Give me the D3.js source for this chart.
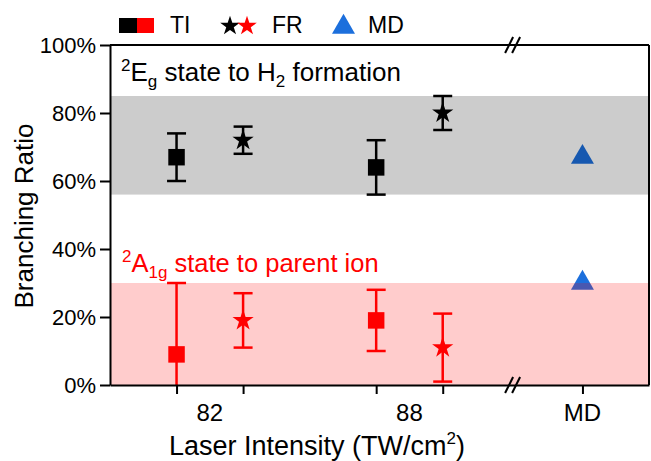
<!DOCTYPE html>
<html>
<head>
<meta charset="utf-8">
<script src="https://cdn.jsdelivr.net/npm/d3@7"></script>
<style>
  body { margin: 0; background: #fff; }
  svg text { font-family: Arial, "Liberation Sans", sans-serif; }
</style>
</head>
<body>
<svg id="chart" width="651" height="461"></svg>
<script>
// values (percent)
const intensities = ["82", "88"]
const tiH2 = [67, 64]
const tiH2Err = [7, 8]
const frH2 = [72, 80]
const frH2Err = [4, 5]
const tiParent = [9, 19]
const tiParentErr = [21, 9]
const frParent = [19, 11]
const frParentErr = [8, 10]
const mdLabel = "MD"
const mdValues = [67, 30]
const h2Band = [56, 85]
const parentBand = [0, 30]
const yTicks = [0, 20, 40, 60, 80, 100]

const blue = '#1c6fdc'
const red = '#ff0000'

const svg = d3.select('#chart')

const x = d3.scaleLinear().domain([0, 8.1]).range([110, 649])
const y = d3.scaleLinear().domain([0, 100]).range([385, 45])
const group = d3.scalePoint().domain(intensities).range([1.5, 4.5])
const mdX = 7.1, breakX = 6.05

svg.append('clipPath').attr('id', 'plot-clip')
  .append('rect')
  .attr('x', x(0)).attr('y', y(100))
  .attr('width', x(8.1) - x(0)).attr('height', y(0) - y(100))

const plot = svg.append('g').attr('clip-path', 'url(#plot-clip)')

// build the marks from the arrays
const points = []
intensities.forEach((g, i) => {
  points.push({x: group(g) - 0.5, v: tiH2[i], e: tiH2Err[i], color: 'black', shape: d3.symbolSquare, size: 272})
  points.push({x: group(g) + 0.5, v: frH2[i], e: frH2Err[i], color: 'black', shape: d3.symbolStar, size: 140})
  points.push({x: group(g) - 0.5, v: tiParent[i], e: tiParentErr[i], color: red, shape: d3.symbolSquare, size: 272})
  points.push({x: group(g) + 0.5, v: frParent[i], e: frParentErr[i], color: red, shape: d3.symbolStar, size: 140})
})

const capW = 9.5
const bars = plot.selectAll('g.err')
  .data(points)
  .enter()
  .append('g')
  .attr('class', 'err')
  .attr('stroke', d => d.color)
  .attr('stroke-width', 2.5)

bars.append('line')
  .attr('x1', d => x(d.x)).attr('x2', d => x(d.x))
  .attr('y1', d => y(d.v - d.e)).attr('y2', d => y(d.v + d.e))
bars.append('line')
  .attr('x1', d => x(d.x) - capW).attr('x2', d => x(d.x) + capW)
  .attr('y1', d => y(d.v + d.e)).attr('y2', d => y(d.v + d.e))
bars.append('line')
  .attr('x1', d => x(d.x) - capW).attr('x2', d => x(d.x) + capW)
  .attr('y1', d => y(d.v - d.e)).attr('y2', d => y(d.v - d.e))

plot.selectAll('path.marker')
  .data(points)
  .enter()
  .append('path')
  .attr('class', 'marker')
  .attr('d', d => d3.symbol(d.shape, d.size)())
  .attr('fill', d => d.color)
  .attr('transform', d => `translate(${x(d.x)},${y(d.v)})`)

plot.selectAll('path.md')
  .data(mdValues)
  .enter()
  .append('path')
  .attr('class', 'md')
  .attr('d', d3.symbol(d3.symbolTriangle, 229)())
  .attr('fill', blue)
  .attr('transform', d => `translate(${x(mdX)},${y(d)})`)

// shaded bands sit on top, semi transparent
plot.append('rect')
  .attr('x', x(0)).attr('width', x(8.1) - x(0))
  .attr('y', y(h2Band[1])).attr('height', y(h2Band[0]) - y(h2Band[1]))
  .attr('fill', 'black').attr('fill-opacity', 0.2)
plot.append('rect')
  .attr('x', x(0)).attr('width', x(8.1) - x(0))
  .attr('y', y(parentBand[1])).attr('height', y(parentBand[0]) - y(parentBand[1]))
  .attr('fill', red).attr('fill-opacity', 0.2)

// axes
const yAxis = svg.append('g')
  .attr('transform', `translate(${x(0)},0)`)
  .call(d3.axisLeft(y).tickValues(yTicks).tickFormat(d => d + '%').tickSize(10).tickSizeOuter(0).tickPadding(4))
yAxis.selectAll('text').attr('font-size', 22).attr('fill', 'black')

const tickPositions = []
intensities.forEach(g => { tickPositions.push(group(g) - 0.5, group(g) + 0.5) })
tickPositions.push(mdX)

const xAxis = svg.append('g')
  .attr('transform', `translate(0,${y(0)})`)
  .call(d3.axisBottom(x).tickValues(tickPositions).tickFormat('').tickSize(9).tickSizeOuter(0))

svg.selectAll('.domain, .tick line').attr('stroke', 'black').attr('stroke-width', 2)

svg.selectAll('text.xlab')
  .data(intensities.concat([mdLabel]))
  .enter()
  .append('text')
  .attr('class', 'xlab')
  .attr('x', d => d === mdLabel ? x(mdX) : x(group(d)))
  .attr('y', 421)
  .attr('text-anchor', 'middle')
  .attr('font-size', 24)
  .text(d => d)

// frame top and right
svg.append('line').attr('x1', x(0)).attr('x2', x(8.1)).attr('y1', y(100)).attr('y2', y(100))
  .attr('stroke', 'black').attr('stroke-width', 2)
svg.append('line').attr('x1', x(8.1)).attr('x2', x(8.1)).attr('y1', y(100)).attr('y2', y(0))
  .attr('stroke', 'black').attr('stroke-width', 2)

// axis breaks
for (const yy of [y(100), y(0)]) {
  for (const dx of [-3.5, 3.5]) {
    svg.append('line')
      .attr('x1', x(breakX) + dx - 4).attr('y1', yy + 8)
      .attr('x2', x(breakX) + dx + 4).attr('y2', yy - 8)
      .attr('stroke', 'black').attr('stroke-width', 2)
  }
}

// annotations
const h2Text = svg.append('text').attr('x', 121).attr('y', 81).attr('font-size', 26).attr('fill', 'black')
h2Text.append('tspan').attr('font-size', 17).attr('dy', -10).text('2')
h2Text.append('tspan').attr('dy', 10).text('E')
h2Text.append('tspan').attr('font-size', 17).attr('dy', 6).text('g')
h2Text.append('tspan').attr('dy', -6).text(' state to H')
h2Text.append('tspan').attr('font-size', 17).attr('dy', 6).text('2')
h2Text.append('tspan').attr('dy', -6).text(' formation')

const parentText = svg.append('text').attr('x', 122).attr('y', 272).attr('font-size', 25.5).attr('fill', red)
parentText.append('tspan').attr('font-size', 17).attr('dy', -10).text('2')
parentText.append('tspan').attr('dy', 10).text('A')
parentText.append('tspan').attr('font-size', 17).attr('dy', 6).text('1g')
parentText.append('tspan').attr('dy', -6).text(' state to parent ion')

// axis titles
svg.append('text')
  .attr('transform', 'translate(33,216) rotate(-90)')
  .attr('text-anchor', 'middle')
  .attr('font-size', 26)
  .text('Branching Ratio')

const xTitle = svg.append('text')
  .attr('x', 317).attr('y', 455)
  .attr('text-anchor', 'middle')
  .attr('font-size', 27)
xTitle.append('tspan').text('Laser Intensity (TW/cm')
xTitle.append('tspan').attr('font-size', 17).attr('dy', -11).text('2')
xTitle.append('tspan').attr('dy', 11).text(')')

// legend
const legend = svg.append('g').attr('class', 'legend')
legend.append('rect').attr('x', 119).attr('y', 18).attr('width', 18).attr('height', 15).attr('fill', 'black')
legend.append('rect').attr('x', 137).attr('y', 18).attr('width', 17).attr('height', 15).attr('fill', red)
legend.append('text').attr('x', 170).attr('y', 33).attr('font-size', 23).text('TI')
legend.append('path').attr('d', d3.symbol(d3.symbolStar, 120)()).attr('fill', 'black').attr('transform', 'translate(230,26)')
legend.append('path').attr('d', d3.symbol(d3.symbolStar, 120)()).attr('fill', red).attr('transform', 'translate(247,26)')
legend.append('text').attr('x', 272).attr('y', 33).attr('font-size', 23).text('FR')
legend.append('path').attr('d', d3.symbol(d3.symbolTriangle, 229)()).attr('fill', blue).attr('transform', 'translate(343.5,27)')
legend.append('text').attr('x', 368).attr('y', 33).attr('font-size', 23).text(mdLabel)
</script>
</body>
</html>
